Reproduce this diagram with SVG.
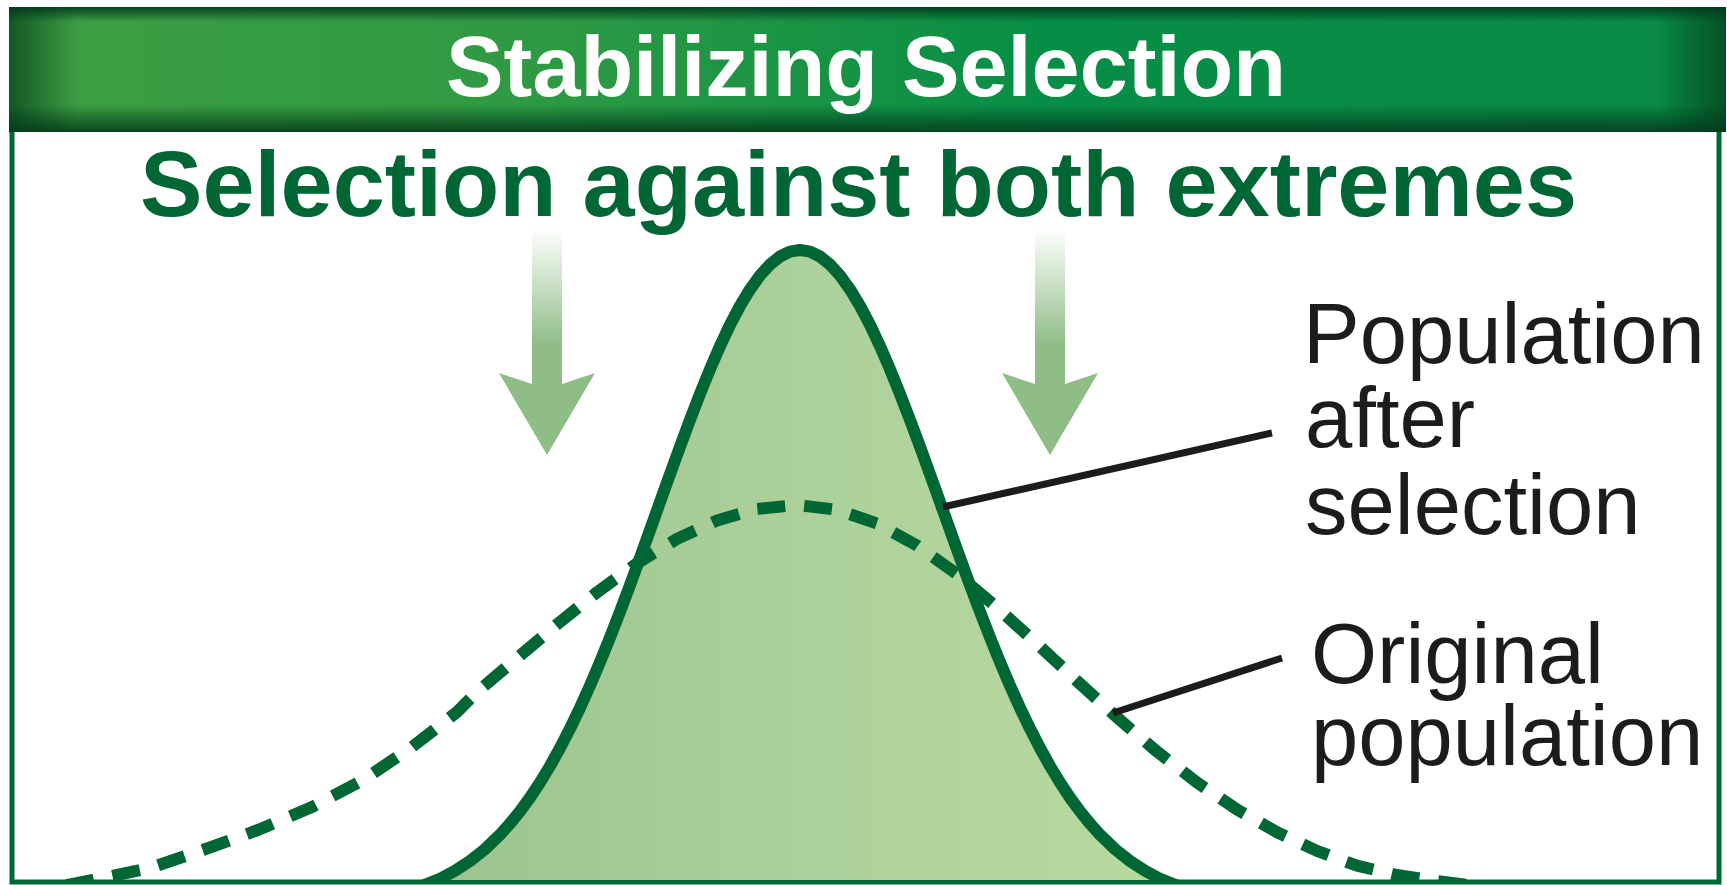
<svg xmlns="http://www.w3.org/2000/svg" width="1727" height="885" viewBox="0 0 1727 885">
<defs>
<linearGradient id="hdr" x1="0" y1="0" x2="1" y2="0">
<stop offset="0" stop-color="#3d9f42"/>
<stop offset="0.3" stop-color="#2f9a43"/>
<stop offset="0.6" stop-color="#078e46"/>
<stop offset="1" stop-color="#0a8a44"/>
</linearGradient>
<linearGradient id="hdrV" x1="0" y1="0" x2="0" y2="1">
<stop offset="0" stop-color="#00381a" stop-opacity="0.9"/>
<stop offset="0.12" stop-color="#00381a" stop-opacity="0"/>
<stop offset="0.78" stop-color="#00381a" stop-opacity="0"/>
<stop offset="1" stop-color="#00381a" stop-opacity="0.85"/>
</linearGradient>
<linearGradient id="hdrH" x1="0" y1="0" x2="1" y2="0">
<stop offset="0" stop-color="#00381a" stop-opacity="0.7"/>
<stop offset="0.04" stop-color="#00381a" stop-opacity="0"/>
<stop offset="0.96" stop-color="#00381a" stop-opacity="0"/>
<stop offset="1" stop-color="#00381a" stop-opacity="0.7"/>
</linearGradient>
<linearGradient id="bellFill" gradientUnits="userSpaceOnUse" x1="396" y1="0" x2="1195" y2="0">
<stop offset="0" stop-color="#9bc28d"/>
<stop offset="0.5" stop-color="#acd09a"/>
<stop offset="1" stop-color="#b9db9f"/>
</linearGradient>
<linearGradient id="arrowGrad" gradientUnits="userSpaceOnUse" x1="0" y1="228" x2="0" y2="345">
<stop offset="0" stop-color="#8fbc87" stop-opacity="0"/>
<stop offset="1" stop-color="#8fbc87"/>
</linearGradient>
<clipPath id="inner"><rect x="14" y="131" width="1703" height="749"/></clipPath>
</defs>
<style>
.title{font-family:"Liberation Sans",Arial,sans-serif;font-weight:bold;font-size:86px;fill:#ffffff}
.sub{font-family:"Liberation Sans",Arial,sans-serif;font-weight:bold;font-size:93px;fill:#006633}
.lbl{font-family:"Liberation Sans",Arial,sans-serif;font-size:85px;fill:#1e1b1c}
.leader{stroke:#1e1b1c;stroke-width:7;fill:none}
.arrow{fill:url(#arrowGrad)}
.curve{fill:none;stroke:#006633;stroke-width:12;stroke-linejoin:round}
</style>
<rect x="0" y="0" width="1727" height="885" fill="#ffffff"/>
<g id="frame">
<rect x="12" y="100" width="1707" height="782" fill="#ffffff" stroke="#006633" stroke-width="5"/>
</g>
<g id="header">
<rect x="9" y="7" width="1717" height="125" fill="url(#hdr)"/>
<rect x="9" y="7" width="1717" height="125" fill="url(#hdrV)"/>
<rect x="9" y="7" width="1717" height="125" fill="url(#hdrH)"/>
<text class="title" x="446" y="96" textLength="840" lengthAdjust="spacingAndGlyphs">Stabilizing Selection</text>
</g>
<g id="subtitle">
<text class="sub" x="140" y="216" textLength="1437" lengthAdjust="spacingAndGlyphs">Selection against both extremes</text>
</g>
<g id="arrows">
<path class="arrow" d="M532 228 L562 228 L562 384 L595 373 L547 455 L499 373 L532 384 Z"/>
<path class="arrow" d="M1035 228 L1065 228 L1065 384 L1098 373 L1050 455 L1002 373 L1035 384 Z"/>
</g>
<g id="curves" clip-path="url(#inner)">
<g id="after-selection-fill">
<path fill="url(#bellFill)" d="M370 898.3 L400 892.6 L420 886.8 L440 878.7 L455 870.8 L470 861 L485 849.1 L500 834.7 L510 823.6 L520 811.3 L530 797.6 L540 782.5 L550 766 L560 748 L570 728.6 L580 707.8 L590 685.6 L600 662.1 L610 637.4 L620 611.7 L630 585.1 L640 557.8 L650 530.1 L660 502.1 L670 474.2 L680 446.7 L690 419.8 L700 393.9 L710 369.2 L720 346.1 L730 324.9 L740 305.9 L750 289.4 L760 275.5 L770 264.5 L780 256.5 L790 251.6 L800 250 L810 251.6 L820 256.5 L830 264.5 L840 275.5 L850 289.4 L860 305.9 L870 324.9 L880 346.1 L890 369.2 L900 393.9 L910 419.8 L920 446.7 L930 474.2 L940 502.1 L950 530.1 L960 557.8 L970 585.1 L980 611.7 L990 637.4 L1000 662.1 L1010 685.6 L1020 707.8 L1030 728.6 L1040 748 L1050 766 L1060 782.5 L1070 797.6 L1080 811.3 L1090 823.6 L1100 834.7 L1115 849.1 L1130 861 L1145 870.8 L1160 878.7 L1180 886.8 L1200 892.6 L1230 898.3 L1230 905 L370 905 Z"/>
</g>
<g id="original-population">
<path class="curve" stroke-dasharray="28 19" d="M20 893 L40 890 L93 880 L150 868 L203 850 L258 830 L312 807 L363 780 L412 747 L457 712 L477 692 L517 658.1 L557 624.4 L597 592.3 L637 563.3 L677 538.9 L717 520.5 L757 508.9 L797 505 L837 509.7 L877 523.5 L917 545.4 L957 574 L997 607.5 L1037 643.8 L1077 681 L1117 717.4 L1157 751.6 L1197 782.5 L1237 809.5 L1277 832.2 L1317 850.9 L1357 865.7 L1397 875 L1437 881 L1477 886 L1517 890 L1560 893"/>
</g>
<g id="after-selection">
<path class="curve" d="M370 898.3 L400 892.6 L420 886.8 L440 878.7 L455 870.8 L470 861 L485 849.1 L500 834.7 L510 823.6 L520 811.3 L530 797.6 L540 782.5 L550 766 L560 748 L570 728.6 L580 707.8 L590 685.6 L600 662.1 L610 637.4 L620 611.7 L630 585.1 L640 557.8 L650 530.1 L660 502.1 L670 474.2 L680 446.7 L690 419.8 L700 393.9 L710 369.2 L720 346.1 L730 324.9 L740 305.9 L750 289.4 L760 275.5 L770 264.5 L780 256.5 L790 251.6 L800 250 L810 251.6 L820 256.5 L830 264.5 L840 275.5 L850 289.4 L860 305.9 L870 324.9 L880 346.1 L890 369.2 L900 393.9 L910 419.8 L920 446.7 L930 474.2 L940 502.1 L950 530.1 L960 557.8 L970 585.1 L980 611.7 L990 637.4 L1000 662.1 L1010 685.6 L1020 707.8 L1030 728.6 L1040 748 L1050 766 L1060 782.5 L1070 797.6 L1080 811.3 L1090 823.6 L1100 834.7 L1115 849.1 L1130 861 L1145 870.8 L1160 878.7 L1180 886.8 L1200 892.6 L1230 898.3"/>
</g>
</g>
<g id="connectors">
<line class="leader" x1="943" y1="507" x2="1272" y2="433"/>
<line class="leader" x1="1113" y1="713" x2="1282" y2="658"/>
</g>
<g id="label-after">
<text class="lbl" x="1303" y="363">Population</text>
<text class="lbl" x="1305" y="447">after</text>
<text class="lbl" x="1305" y="534">selection</text>
</g>
<g id="label-original">
<text class="lbl" x="1311" y="683">Original</text>
<text class="lbl" x="1311" y="765">population</text>
</g>
</svg>
